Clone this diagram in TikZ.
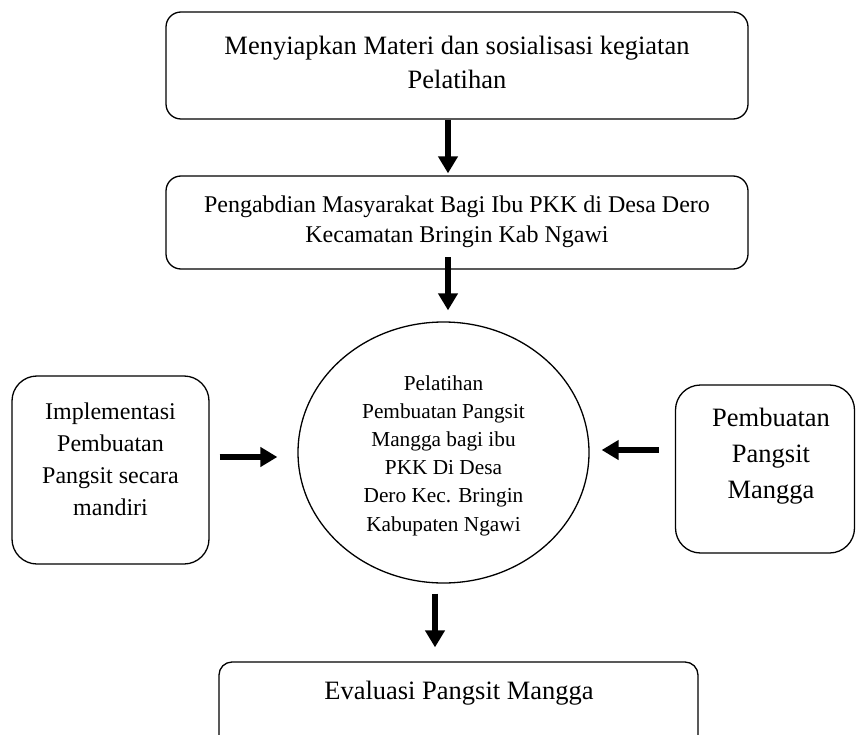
\documentclass[tikz,border=0pt]{standalone}
\usepackage{fontspec}
\setmainfont{Liberation Serif}
\usetikzlibrary{shapes.geometric,arrows.meta}
\tikzset{
  rbox/.style={draw, line width=1.3pt, inner sep=0pt},
  oval/.style={draw, ellipse, line width=1.3pt, inner sep=0pt},
  txt/.style={align=center, inner sep=0pt},
  bigarrow/.style={line width=5.5pt, -{Triangle[width=19pt,length=17pt]}},
  fbig/.style={font=\fontsize{26.5}{34}\selectfont},
  fmid/.style={font=\fontsize{24}{30}\selectfont},
  fsmall/.style={font=\fontsize{21.3}{28.2}\selectfont}
}
\begin{document}
\begin{tikzpicture}[x=1pt,y=-1pt]
\useasboundingbox (0,0) rectangle (856,735);
\clip (0,0) rectangle (856,735);
% shapes
\node[rbox, rounded corners=15pt, minimum width=582pt, minimum height=107pt] (b1) at (457,65.5) {};
\node[rbox, rounded corners=15pt, minimum width=582pt, minimum height=93pt] (b2) at (457,222.5) {};
\node[oval, minimum width=291pt, minimum height=261pt] (c) at (443.5,452.5) {};
\node[rbox, rounded corners=25pt, minimum width=197pt, minimum height=188pt] (l) at (110.5,470) {};
\node[rbox, rounded corners=25pt, minimum width=179pt, minimum height=168pt] (r) at (765,469) {};
\node[rbox, rounded corners=13pt, minimum width=479pt, minimum height=110pt] (e) at (458.5,717) {};
% texts
\node[txt, fbig] (t1) at (457,62) {Menyiapkan Materi dan sosialisasi kegiatan\\Pelatihan};
\node[txt, fmid] (t2) at (457,222) {Pengabdian Masyarakat Bagi Ibu PKK di Desa Dero\\Kecamatan Bringin Kab Ngawi};
\node[txt, fsmall] (tc) at (443.5,455.5) {Pelatihan\\Pembuatan Pangsit\\Mangga bagi ibu\\PKK Di Desa\\Dero Kec. Bringin\\Kabupaten Ngawi};
\node[txt, font=\fontsize{24}{32}\selectfont] (tl) at (110.5,459) {Implementasi\\Pembuatan\\Pangsit secara\\mandiri};
\node[txt, font=\fontsize{26.5}{36}\selectfont] (tr) at (771,456) {Pembuatan\\Pangsit\\Mangga};
\node[txt, fbig] (te) at (459,693) {Evaluasi Pangsit Mangga};
% arrows
\draw[bigarrow] ([xshift=-9pt]b1.south) -- ([xshift=-9pt,yshift=2pt]b2.north);
\draw[bigarrow] ([xshift=-9pt,yshift=12.5pt]b2.south) -- ([xshift=4.5pt,yshift=11pt]c.north);
\draw[bigarrow] ([xshift=10pt,yshift=13pt]l.east) -- ([xshift=-20pt,yshift=-4.5pt]c.west);
\draw[bigarrow] ([xshift=-16pt,yshift=19pt]r.west) -- ([xshift=12pt,yshift=2.5pt]c.east);
\draw[bigarrow] ([xshift=-8.5pt,yshift=-10pt]c.south) -- ([xshift=-23.5pt,yshift=14pt]e.north);
\end{tikzpicture}
\end{document}
